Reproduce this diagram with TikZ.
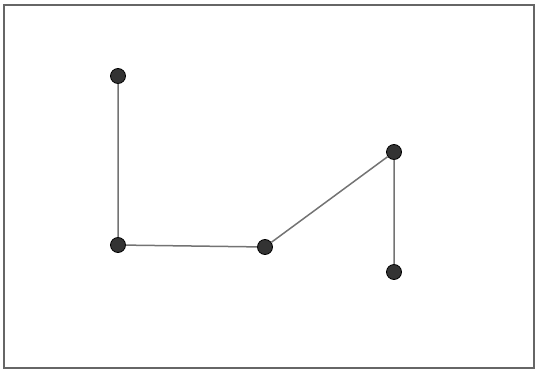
\documentclass[tikz,border=0pt]{standalone}
\begin{document}
\begin{tikzpicture}[x=1pt,y=-1pt,
  dot/.style={circle,fill=black!80,draw=black,line width=0.8pt,inner sep=0pt,minimum size=15pt},
  edge/.style={draw=black!55,line width=1.5pt}]
\useasboundingbox (0,0) rectangle (538,372);
\draw[black!60,line width=1.8pt] (4,5) rectangle (534,368);
\node[dot] (a) at (118,76) {};
\node[dot] (b) at (118,245) {};
\node[dot] (c) at (265,247) {};
\node[dot] (d) at (394,152) {};
\node[dot] (e) at (394,272) {};
\draw[edge] (a) -- (b) -- (c) -- (d) -- (e);
\end{tikzpicture}
\end{document}
